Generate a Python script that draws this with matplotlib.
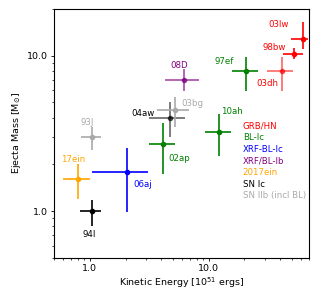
import matplotlib
matplotlib.use("Agg")
import matplotlib.pyplot as plt
from matplotlib.ticker import FormatStrFormatter, NullFormatter

# supernovae: name, kinetic energy (1e51 erg), ejecta mass (Msun), error ranges
names = ["94I", "17ein", "06aj", "93J", "02ap", "04aw", "03bg", "08D",
         "10ah", "97ef", "03dh", "98bw", "03lw"]
ek = [1.045, 0.79, 2.07, 1.045, 4.13, 4.70, 5.18, 6.2, 12.2, 20.7, 41.4, 51.9, 62.0]
ek_lo = [0.82, 0.60, 1.05, 0.85, 3.13, 3.13, 3.66, 4.27, 9.27, 15.7, 30.9, 42.0, 49.5]
ek_hi = [1.25, 1.00, 3.09, 1.25, 5.18, 6.28, 6.79, 8.28, 15.5, 25.9, 51.1, 62.0, 68.5]
mej = [1.0, 1.60, 1.78, 2.99, 2.70, 3.96, 4.47, 6.93, 3.25, 7.92, 7.92, 10.3, 12.8]
mej_lo = [0.80, 1.20, 0.99, 2.47, 1.72, 3.02, 3.50, 5.97, 2.27, 5.97, 5.97, 9.5, 11.1]
mej_hi = [1.18, 2.01, 2.54, 3.50, 3.70, 5.00, 5.46, 8.21, 4.22, 9.80, 9.80, 11.2, 16.5]
kinds = ["Ic", "2017ein", "XRF-BL-Ic", "IIb", "BL-Ic", "Ic", "IIb", "XRF/BL-Ib",
         "BL-Ic", "BL-Ic", "GRB", "GRB", "GRB"]
alphas = [1, 1, 1, 1, 1, 0.6, 1, 0.7, 1, 1, 0.6, 1, 1]

# label placement (data coords)
lab_x = [0.98, 0.72, 2.81, 0.953, 5.70, 2.78, 7.31, 5.70, 15.6, 13.5, 30.9, 35.6, 38.7]
lab_y = [0.71, 2.16, 1.49, 3.71, 2.17, 4.27, 4.90, 8.66, 4.37, 9.2, 6.6, 11.3, 16.0]

kind_colors = {"GRB": "red", "BL-Ic": "green", "XRF-BL-Ic": "blue",
               "XRF/BL-Ib": "purple", "2017ein": "orange", "Ic": "black",
               "IIb": "darkgrey"}
legend_text = ["GRB/HN", "BL-Ic", "XRF-BL-Ic", "XRF/BL-Ib", "2017ein", "SN Ic", "SN IIb (incl BL)"]
legend_kind = ["GRB", "BL-Ic", "XRF-BL-Ic", "XRF/BL-Ib", "2017ein", "Ic", "IIb"]

fig = plt.figure(figsize=(3.31, 2.90), dpi=100)
ax = fig.add_axes([0.163, 0.111, 0.771, 0.858])

for i in range(len(names)):
    c = kind_colors[kinds[i]]
    ax.errorbar(ek[i], mej[i],
                xerr=[[ek[i] - ek_lo[i]], [ek_hi[i] - ek[i]]],
                yerr=[[mej[i] - mej_lo[i]], [mej_hi[i] - mej[i]]],
                fmt="o", color=c, ecolor=c, markersize=3, elinewidth=1.2,
                capsize=0, alpha=alphas[i])
    ax.text(lab_x[i], lab_y[i], names[i], color=c, fontsize=6.2,
            ha="center", va="center")

for j, t in enumerate(legend_text):
    ax.text(0.74, 0.531 - j * 0.047, t, color=kind_colors[legend_kind[j]],
            fontsize=6.2, transform=ax.transAxes, ha="left", va="center")

ax.set_xscale("log")
ax.set_yscale("log")
ax.set_xlim(0.5, 70)
ax.set_ylim(0.5, 20)
ax.xaxis.set_major_formatter(FormatStrFormatter("%.1f"))
ax.yaxis.set_major_formatter(FormatStrFormatter("%.1f"))
ax.xaxis.set_minor_formatter(NullFormatter())
ax.yaxis.set_minor_formatter(NullFormatter())
ax.tick_params(labelsize=6.8, length=2.5, width=0.6, pad=2)
ax.tick_params(which="minor", length=1.5, width=0.5)
for s in ax.spines.values():
    s.set_linewidth(0.8)

ax.set_xlabel("Kinetic Energy [10$^{51}$ ergs]", fontsize=6.8, labelpad=2)
ax.set_ylabel("Ejecta Mass [M$_{\\odot}$]", fontsize=6.8, labelpad=3)

fig.savefig("out.png", dpi=100)
